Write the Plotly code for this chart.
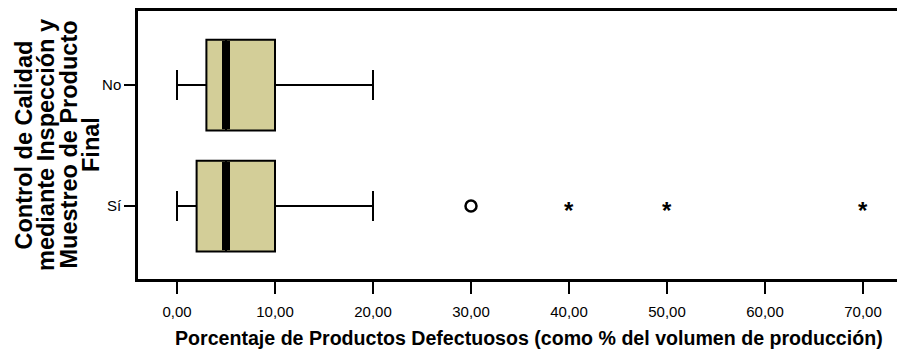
import plotly.graph_objects as go

# ---- data ----
groups = ["Sí", "No"]
group_pos = [0, 1]
q1 = [2.0, 3.0]
median = [5.0, 5.0]
q3 = [10.0, 10.0]
lower_fence = [0.0, 0.0]
upper_fence = [20.0, 20.0]

outlier_group = ["Sí"]
outlier_values = [30.0]               # outliers (circle)
extreme_group = ["Sí", "Sí", "Sí"]
extreme_values = [40.0, 50.0, 70.0]   # extreme values (asterisk)

x_ticks = [0, 10, 20, 30, 40, 50, 60, 70]
x_tick_labels = ["0,00", "10,00", "20,00", "30,00", "40,00", "50,00", "60,00", "70,00"]

x_title = "Porcentaje de Productos Defectuosos (como % del volumen de producción)"
y_title_lines = ["Control de Calidad", "mediante Inspección y", "Muestreo de Producto", "Final"]

BOX_W = 0.75
FILL = "#D3CE98"
FONT = "Liberation Sans, Arial, sans-serif"
pos_of = dict(zip(groups, group_pos))

fig = go.Figure()
for g, p, a, m, b, lo, hi in zip(groups, group_pos, q1, median, q3, lower_fence, upper_fence):
    fig.add_trace(go.Box(
        y=[p], q1=[a], median=[m], q3=[b], lowerfence=[lo], upperfence=[hi],
        orientation="h", width=BOX_W, whiskerwidth=0.33,
        fillcolor=FILL, line=dict(color="black", width=2),
        boxpoints=False, showlegend=False, hoverinfo="skip",
    ))
    # thick median line
    fig.add_trace(go.Scatter(
        x=[m, m], y=[p - BOX_W / 2 + 0.01, p + BOX_W / 2 - 0.01], mode="lines",
        line=dict(color="black", width=8), showlegend=False, hoverinfo="skip",
    ))

fig.add_trace(go.Scatter(
    x=outlier_values, y=[pos_of[g] for g in outlier_group], mode="markers",
    marker=dict(symbol="circle-open", size=11, color="black", line=dict(width=2.5)),
    showlegend=False, hoverinfo="skip",
))

annotations = []
for g, v in zip(extreme_group, extreme_values):
    annotations.append(dict(
        x=v, y=pos_of[g], xref="x", yref="y", text="<b>*</b>", showarrow=False,
        font=dict(family=FONT, size=24, color="black"), yshift=-4,
    ))

# x-axis title (plot area spans pixel rows 11..279)
annotations.append(dict(
    x=0.515, y=(279 - 338) / (279 - 11), xref="paper", yref="paper",
    yanchor="middle", xanchor="center",
    text="<b>" + x_title + "</b>", showarrow=False,
    font=dict(family=FONT, size=19.6, color="black"),
))

# y-axis title (4 rotated lines)
line_centers_px = [23.5, 46, 68.5, 91]
for txt, cx in zip(y_title_lines, line_centers_px):
    annotations.append(dict(
        x=0, y=0.5, xref="paper", yref="paper", xanchor="center", yanchor="middle",
        xshift=cx - 138, text="<b>" + txt + "</b>", textangle=-90, showarrow=False,
        font=dict(family=FONT, size=23.5, color="black"),
    ))

fig.update_layout(
    width=897, height=355,
    margin=dict(l=138, r=0, t=11, b=76, autoexpand=False),
    paper_bgcolor="white", plot_bgcolor="white",
    font=dict(family=FONT, color="black"),
    annotations=annotations,
)
fig.update_xaxes(
    range=[-3.98, 73.47], tickvals=x_ticks, ticktext=x_tick_labels,
    showline=True, linecolor="black", linewidth=2.5, mirror=True,
    ticks="outside", ticklen=12, tickwidth=2, tickcolor="black",
    tickfont=dict(family=FONT, size=15), showgrid=False, zeroline=False,
    automargin=False, ticklabelstandoff=5,
)
fig.update_yaxes(
    range=[-0.603, 1.612], tickvals=group_pos, ticktext=groups,
    showline=True, linecolor="black", linewidth=2.5, mirror=False,
    ticks="outside", ticklen=11, tickwidth=2, tickcolor="black",
    tickfont=dict(family=FONT, size=15), showgrid=False, zeroline=False,
    automargin=False,
)
fig.write_html("out.html", config={"displayModeBar": False},
               post_script="document.body.style.margin='0px';")
